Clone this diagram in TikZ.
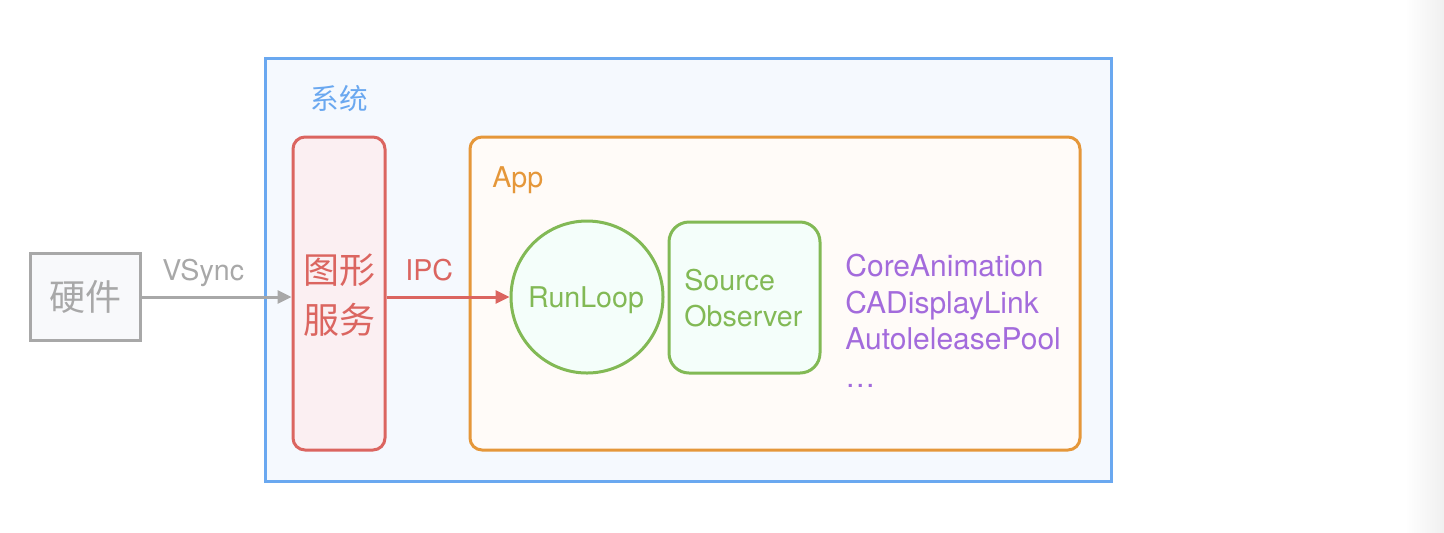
\documentclass[tikz,border=0pt]{standalone}
\usepackage{fontspec}
\setmainfont{TeX Gyre Heros}
\newfontfamily\cjk{Noto Sans CJK SC}
\usetikzlibrary{arrows.meta,calc}
\definecolor{cgray}{HTML}{A8A8A8}
\definecolor{cgrayfill}{HTML}{F8F9FB}
\definecolor{cblue}{HTML}{6AA8F0}
\definecolor{cbluefill}{HTML}{F5F9FE}
\definecolor{cred}{HTML}{DB6560}
\definecolor{credfill}{HTML}{FBEFF2}
\definecolor{corange}{HTML}{E5973A}
\definecolor{corangefill}{HTML}{FFFBF8}
\definecolor{cgreen}{HTML}{82B955}
\definecolor{cgreenfill}{HTML}{F4FEFA}
\definecolor{cpurple}{HTML}{A36BDC}
\tikzset{
  lat/.style={font=\fontsize{14.3pt}{18pt}\selectfont, inner sep=0pt},
  latL/.style={font=\fontsize{15pt}{18.2pt}\selectfont, inner sep=0pt},
  han/.style={font=\cjk\fontsize{18pt}{25pt}\selectfont, inner sep=0pt},
  hanS/.style={font=\cjk\fontsize{14.3pt}{18pt}\selectfont, inner sep=0pt},
  hwbox/.style={draw=cgray, fill=cgrayfill, line width=1.5pt, minimum width=55pt, minimum height=43.5pt, inner sep=0pt},
  sysbox/.style={draw=cblue, fill=cbluefill, line width=1.5pt, minimum width=423pt, minimum height=211.5pt, inner sep=0pt},
  gsbox/.style={draw=cred, fill=credfill, line width=1.5pt, rounded corners=6pt, minimum width=46pt, minimum height=156.5pt, inner sep=0pt},
  appbox/.style={draw=corange, fill=corangefill, line width=1.5pt, rounded corners=6pt, minimum width=305pt, minimum height=156.5pt, inner sep=0pt},
  rlcircle/.style={circle, draw=cgreen, fill=cgreenfill, line width=1.5pt, minimum size=76pt, inner sep=0pt},
  sobox/.style={draw=cgreen, fill=cgreenfill, line width=1.5pt, rounded corners=10pt, minimum width=75.5pt, minimum height=75.5pt, inner sep=0pt},
  conn/.style={line width=1.5pt, -{Triangle[length=7pt,width=6.5pt]}},
}
\begin{document}
\begin{tikzpicture}[x=0.5pt,y=-0.5pt]
\useasboundingbox (0,0) rectangle (1444,532);
\fill[white] (0,0) rectangle (1444,532);
\shade[left color=white, right color=black!6] (1405,0) rectangle (1444,532);

\node[sysbox] (sys) at (688,269.5) {};
\node[hanS, text=cblue] (syslabel) at (339,99) {系统};

\node[hwbox] (hw) at (85,296.5) {};
\node[han, text=cgray] (hwlabel) at (85,297) {硬件};

\node[gsbox] (gs) at (339,293.5) {};
\node[han, text=cred, align=center] (gslabel) at (339,295) {图形\\服务};

\node[appbox] (app) at (775,293.5) {};
\node[lat, text=corange, anchor=base west] (applabel) at (492,187) {App};

\node[rlcircle] (rl) at (587,297) {};
\node[lat, text=cgreen, anchor=base] (rllabel) at (586,307) {RunLoop};

\node[sobox] (so) at (744.5,297.5) {};
\node[lat, text=cgreen, align=left, anchor=base west] (solabel) at (684,326) {Source\\Observer};

\node[latL, text=cpurple, align=left, anchor=base west] (list) at (845,387) {CoreAnimation\\CADisplayLink\\AutoleleasePool\\[0.5pt]…};

\coordinate (arrowy) at (0,297);
\draw[conn, draw=cgray, fill=cgray] (hw.east |- arrowy) -- (gs.west |- arrowy);
\node[lat, text=cgray, anchor=base west] (vsync) at (162,280) {VSync};

\draw[conn, draw=cred, fill=cred] (gs.east |- arrowy) -- (rl.west);
\node[lat, text=cred, anchor=base west] (ipc) at (405,280) {IPC};
\end{tikzpicture}
\end{document}
